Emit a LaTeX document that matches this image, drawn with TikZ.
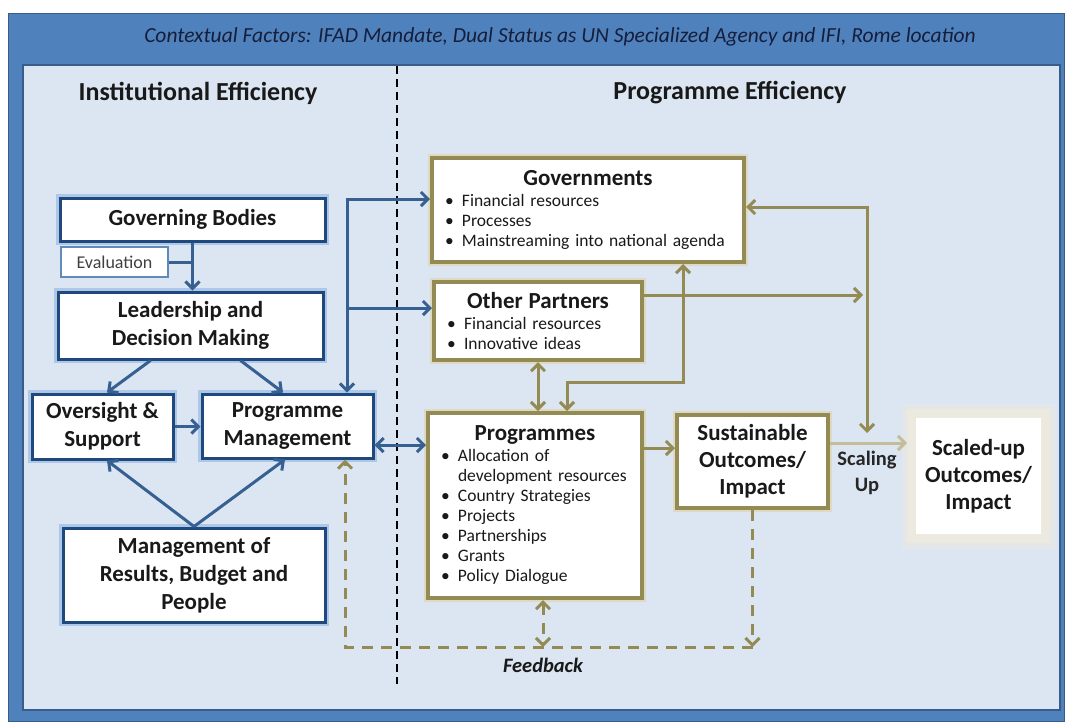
\documentclass[tikz,border=0pt]{standalone}
\usepackage{fontspec}
\setmainfont{Carlito}
\usepackage{tikz}
\usetikzlibrary{
  arrows.meta,   % Straight Barb 箭头
  calc,          % 坐标计算
  positioning    % 节点相对定位
}
\definecolor{frameblue}{RGB}{79,129,189}
\definecolor{framedark}{RGB}{56,93,138}
\definecolor{panelblue}{RGB}{220,230,242}
\definecolor{boxnavy}{RGB}{31,73,125}
\definecolor{glowblue}{RGB}{141,179,226}
\definecolor{linkblue}{RGB}{55,96,146}
\definecolor{olivebox}{RGB}{148,138,84}
\definecolor{oliveglow}{RGB}{221,217,195}
\definecolor{scaletan}{RGB}{196,189,151}
\definecolor{scalegrey}{RGB}{236,234,222}
\definecolor{bannerink}{RGB}{22,30,58}

% 条目符号
\newcommand{\bul}[1]{\makebox[17pt][l]{\textbullet}#1}
\newcommand{\boxhead}[1]{\makebox[\hsize]{\fontsize{23}{25}\selectfont\bfseries #1}}

\tikzset{
  inst box/.style={
    draw=boxnavy,
    line width=3pt,
    fill=white,
    align=center,
    inner sep=3pt,
    text=black!90,
    font=\fontsize{23}{28}\selectfont\bfseries,
    preaction={draw=glowblue, line width=8pt, opacity=0.6}
  },
  eval box/.style={
    draw=glowblue!60!boxnavy,
    line width=1.2pt,
    fill=white,
    text=black!75,
    font=\fontsize{18}{20}\selectfont
  },
  prog box/.style={
    draw=olivebox,
    line width=4pt,
    fill=white,
    text=black!90,
    preaction={draw=oliveglow, line width=8pt}
  },
  list box/.style={
    prog box,
    align=left,
    inner xsep=13pt,
    font=\fontsize{17.5}{20}\selectfont
  },
  outcome box/.style={
    prog box,
    align=center,
    inner sep=3pt,
    font=\fontsize{23}{27}\selectfont\bfseries
  },
  heading/.style={
    font=\fontsize{26}{30}\selectfont\bfseries,
    text=black!90
  },
  blue link/.style={draw=linkblue, line width=3pt},
  olive link/.style={draw=olivebox, line width=3pt},
  feedback link/.style={olive link, dash pattern=on 11pt off 8pt}
}

\begin{document}
\begin{tikzpicture}[x=1pt, y=-1pt, >={Straight Barb[length=7pt,width=14pt]}, line width=0.8pt]
  \useasboundingbox (0,0) rectangle (1067,721);

  % 1. 外框、标题栏与浅色底板
  \fill[frameblue] (8,13) rectangle (1064,721);
  \draw[framedark, line width=1pt] (8,13) rectangle (1064,721);
  \fill[panelblue] (23,65) rectangle (1060,710);
  \draw[framedark, line width=1.2pt] (23,65) rectangle (1060,710);
  \node[font=\fontsize{21.5}{24}\selectfont\itshape, text=bannerink] (context) at (560,37)
    {Contextual Factors: IFAD Mandate, Dual Status as UN Specialized Agency and IFI, Rome location};

  % 2. 分界虚线与两侧标题
  \draw[black, line width=1.8pt, dash pattern=on 8pt off 5pt] (397,66) -- (397,684);
  \node[heading] (insthead) at (198,93) {Institutional Efficiency};
  \node[heading] (proghead) at (730,93) {Programme Efficiency};

  % 3. 左侧：机构效率
  \node[inst box, minimum width=265pt, minimum height=43pt] (gb) at (192.5,219.5) {Governing Bodies};
  \node[eval box, minimum width=107pt, minimum height=30pt] (eval) at (114.5,262) {Evaluation};
  \node[inst box, minimum width=265pt, minimum height=67pt] (ldm) at (190.5,325.5) {Leadership and\\Decision Making};
  \node[inst box, minimum width=141pt, minimum height=65pt] (over) at (102.5,426.5) {Oversight \&\\Support};
  \node[inst box, minimum width=171pt, minimum height=64pt] (pm) at (287.5,426) {Programme\\Management};
  \node[inst box, minimum width=262pt, minimum height=94pt] (mrbp) at (194,575) {Management of\\Results, Budget and\\People};

  % 4. 右侧：规划效率
  \node[list box, text width=286pt, minimum height=104pt] (gov) at (588,210)
    {\boxhead{Governments}\\[1pt]
     \bul{Financial resources}\\
     \bul{Processes}\\
     \bul{Mainstreaming into national agenda}};
  \node[list box, text width=182pt, minimum height=78pt] (oth) at (538,321)
    {\boxhead{Other Partners}\\[1pt]
     \bul{Financial resources}\\
     \bul{Innovative ideas}};
  \node[list box, text width=188pt, minimum height=185pt] (prog) at (535,505.5)
    {\boxhead{Programmes}\\[1pt]
     \bul{Allocation of}\\
     \hspace*{17pt}development resources\\
     \bul{Country Strategies}\\
     \bul{Projects}\\
     \bul{Partnerships}\\
     \bul{Grants}\\
     \bul{Policy Dialogue}};
  \node[outcome box, minimum width=151pt, minimum height=93pt] (sust) at (752.5,461.5)
    {Sustainable\\Outcomes/\\Impact};
  \node[draw=scalegrey, line width=9pt, fill=white, align=center, text=black!90,
        font=\fontsize{23}{27}\selectfont\bfseries, inner sep=2pt,
        preaction={draw=scalegrey!60!panelblue, line width=20pt, opacity=0.7},
        minimum width=134pt, minimum height=125pt] (scal) at (978.5,476)
    {Scaled-up\\Outcomes/\\Impact};

  % 5. 蓝色连线
  \draw[blue link, ->] (gb.south) -- (gb.south |- ldm.north);
  \draw[blue link] (eval.east) -- (eval.east -| gb.south);
  \draw[blue link, ->] ([xshift=-40pt]ldm.south) -- ([xshift=4.5pt]over.north);
  \draw[blue link, ->] ([xshift=50pt]ldm.south) -- ([xshift=-4.5pt]pm.north);
  \draw[blue link, ->] (over.east) -- (over.east -| pm.west);
  \draw[blue link, ->] (mrbp.north) -- ([xshift=4.5pt]over.south);
  \draw[blue link, ->] (mrbp.north) -- ([xshift=-2.5pt]pm.south);
  \draw[blue link, <->] ([yshift=11pt]gov.west) -| ([xshift=59.5pt]pm.north);
  \coordinate (split) at (347,308);
  \draw[blue link, ->] (split) -- (split -| oth.west);
  \draw[blue link, <->] ([yshift=-19pt]pm.east) -- ([yshift=-19pt]pm.east -| prog.west);

  % 6. 橄榄色连线
  \coordinate (scaldrop) at (867,433);
  \draw[olive link, ->] ([yshift=13.5pt]sust.west -| prog.east) -- ([yshift=13.5pt]sust.west);
  \draw[draw=scaletan, line width=3pt, ->] ([yshift=18.5pt]sust.east) -- ([yshift=18.5pt]sust.east -| scal.west);
  \node[font=\fontsize{20.5}{26}\selectfont\bfseries, align=center, text=black!85] (scaling) at (867,473) {Scaling\\Up};
  \draw[olive link, <->] ([yshift=3pt]gov.east) -| (scaldrop);
  \draw[olive link, ->, shorten >=4pt] ([yshift=26pt]oth.east) -- ([yshift=26pt]oth.east -| scaldrop);
  \draw[olive link, <->] ([xshift=95pt]gov.south) -- ++(0,118) -| ([xshift=32pt]prog.north);
  \draw[olive link, <->] (oth.south) -- (oth.south |- prog.north);

  % 7. 反馈虚线
  \coordinate (fb) at (543,647);
  \draw[feedback link, ->] (sust.south) -- (sust.south |- fb);
  \draw[feedback link, ->] (sust.south |- fb) -| ([xshift=57.5pt]pm.south);
  \draw[feedback link, <->] ([xshift=8pt]prog.south) -- (fb);
  \node[font=\fontsize{20.5}{22}\selectfont\bfseries\itshape, text=black!90] (fbtext) at (543,665) {Feedback};
\end{tikzpicture}
\end{document}
